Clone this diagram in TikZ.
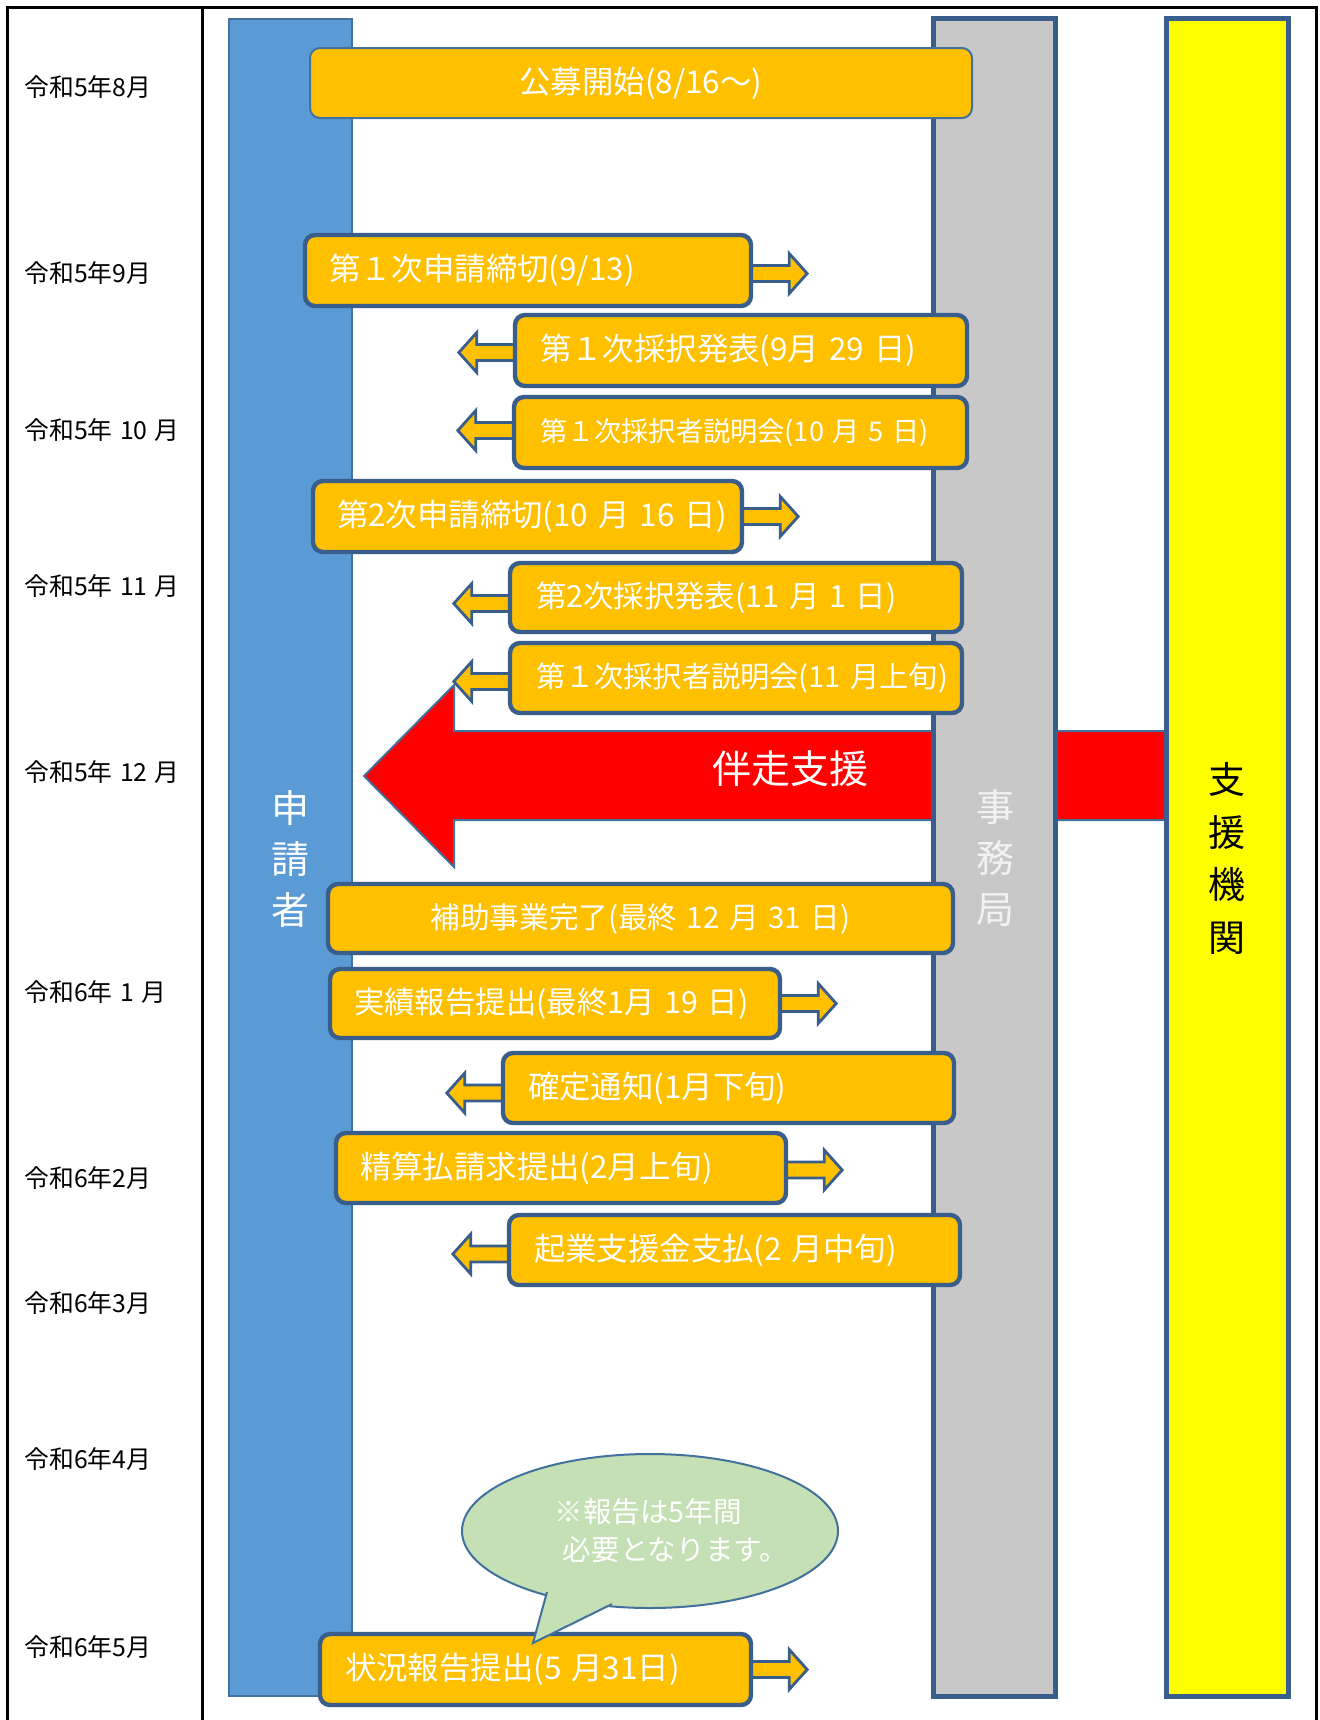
\documentclass[tikz,border=0pt]{standalone}
\usepackage{fontspec}
\setmainfont{Noto Sans CJK JP}
\usetikzlibrary{shapes.geometric}
\definecolor{boxfill}{HTML}{FFC000}
\definecolor{boxline}{HTML}{3A5E8C}
\definecolor{thinline}{HTML}{41719C}
\definecolor{applblue}{HTML}{5B9BD5}
\definecolor{officegray}{HTML}{C8C8C8}
\definecolor{bubblefill}{HTML}{C5E0B4}
\definecolor{offwhite}{HTML}{F2F2F2}
\definecolor{pureyellow}{HTML}{FFFF00}
\newcommand\gap{\kern0.32em}
\newcommand\mgap{\kern0.3em}
\newcommand\arrowR[2]{\draw[blockarrow] ([yshift=#2]#1.east) ++(-6,8) -- ++(42,0) -- ++(0,12) -- ++(18,-20) -- ++(-18,-20) -- ++(0,12) -- ++(-42,0) -- cycle;}
\newcommand\arrowL[2]{\draw[blockarrow] ([yshift=#2]#1.west) ++(6,8) -- ++(-42,0) -- ++(0,12) -- ++(-18,-20) -- ++(18,-20) -- ++(0,12) -- ++(42,0) -- cycle;}
\pgfdeclarelayer{back}
\pgfdeclarelayer{mid}
\pgfsetlayers{back,mid,main}
\begin{document}
\begin{tikzpicture}[x=0.5pt,y=-0.5pt,
  evbox/.style={draw=boxline, line width=2.2pt, fill=boxfill, rounded corners=5pt, text=white, inner ysep=0pt, font=\fontsize{15.7pt}{18pt}\selectfont},
  lbox/.style n args={3}{evbox, minimum height=#1, inner xsep=#2, text width=#3, align=left},
  cbox/.style n args={2}{evbox, minimum width=#1, minimum height=#2, align=center, inner xsep=0pt},
  blockarrow/.style={draw=boxline, line width=1.4pt, fill=boxfill, line join=miter},
  month/.style={anchor=west, font=\fontsize{12.4pt}{14pt}\selectfont, inner sep=0pt},
  vlabel/.style={align=center, font=\fontsize{19pt}{25.5pt}\selectfont, inner sep=0pt},
  frame/.style={line width=1.5pt, black},
]
\useasboundingbox (0,0) rectangle (1319,1720);

% columns and the big red arrow
\begin{pgfonlayer}{back}
\fill[white] (0,0) rectangle (1319,1720);
\draw[fill=applblue, draw=thinline, line width=1pt] (229,19) rectangle (352,1696);
\draw[fill=red, draw=thinline, line width=1pt, line join=miter]
  (1166,731) -- (454,731) -- (454,685) -- (364,776) -- (454,867) -- (454,820) -- (1166,820) -- cycle;
\draw[fill=officegray, draw=boxline, line width=2.5pt] (933.5,18.5) rectangle (1055,1696.5);
\draw[fill=pureyellow, draw=boxline, line width=2.5pt] (1166.5,18.5) rectangle (1288.5,1696.5);
\end{pgfonlayer}

% table frame
\draw[frame] (7,1720) -- (7,7) -- (1316,7) -- (1316,1720);
\draw[frame] (202,7) -- (202,1720);

% month labels
\node[month] (m1) at (24,87) {令和5年8月};
\node[month] (m2) at (24,273) {令和5年9月};
\node[month] (m3) at (24,430) {令和5年\mgap 10\mgap 月};
\node[month] (m4) at (24,586) {令和5年\mgap 11\mgap 月};
\node[month] (m5) at (24,772) {令和5年\mgap 12\mgap 月};
\node[month] (m6) at (24,992) {令和6年\mgap 1\mgap 月};
\node[month] (m7) at (24,1178) {令和6年2月};
\node[month] (m8) at (24,1303) {令和6年3月};
\node[month] (m9) at (24,1459) {令和6年4月};
\node[month] (m10) at (24,1647) {令和6年5月};

% vertical labels
\node[vlabel, text=white] (appl) at (290,859) {申\\請\\者};
\node[vlabel, text=offwhite] (office) at (995,858) {事\\務\\局};
\node[vlabel, text=black, font=\fontsize{18.5pt}{26.2pt}\selectfont] (support) at (1227,858.5) {支\\援\\機\\関};
\node[text=white, font=\fontsize{19.5pt}{22pt}\selectfont, inner sep=0pt] (accomp) at (790,769) {伴走支援};

% event boxes
\node[cbox={331pt}{35pt}, draw=thinline, line width=1pt] (b1) at (641,83) {公募開始(8/16～)};
\node[lbox={35.5pt}{12pt}{199pt}] (b2) at (528,270.5) {第１次申請締切(9/13)};
\node[lbox={35.5pt}{12.5pt}{201pt}] (b3) at (741,350.5) {第１次採択発表(9月\gap 29\gap 日)};
\node[lbox={35.5pt}{13pt}{200.5pt}, font=\fontsize{13.6pt}{16pt}\selectfont] (b4) at (740.5,432.5) {第１次採択者説明会(10\gap 月\gap 5\gap 日)};
\node[lbox={35.5pt}{12pt}{190.5pt}] (b5) at (527.5,516.5) {第2次申請締切(10\gap 月\gap 16\gap 日)};
\node[lbox={34.5pt}{13pt}{200pt}, font=\fontsize{15.2pt}{17pt}\selectfont] (b6) at (736,597.5) {第2次採択発表(11\gap 月\gap 1\gap 日)};
\node[lbox={35pt}{13pt}{200pt}, font=\fontsize{14.6pt}{17pt}\selectfont] (b7) at (736,678) {第１次採択者説明会(11\gap 月上旬)};
\node[cbox={312.5pt}{34.5pt}, font=\fontsize{14.8pt}{17pt}\selectfont] (b8) at (640.5,918.5) {補助事業完了(最終\gap 12\gap 月\gap 31\gap 日)};
\node[lbox={34.5pt}{12pt}{201pt}, font=\fontsize{15.2pt}{17pt}\selectfont] (b9) at (555,1003.5) {実績報告提出(最終1月\gap 19\gap 日)};
\node[lbox={35pt}{12.5pt}{200.5pt}] (b10) at (728.5,1088) {確定通知(1月下旬)};
\node[lbox={35pt}{12pt}{201pt}] (b11) at (561,1168) {精算払請求提出(2月上旬)};
\node[lbox={35pt}{12.5pt}{200.5pt}] (b12) at (734.5,1250) {起業支援金支払(2\gap 月中旬)};
\node[lbox={35.5pt}{12.5pt}{190.5pt}] (b13) at (535.5,1669.5) {状況報告提出(5\gap 月31日)};

% small block arrows (behind the boxes)
\begin{pgfonlayer}{mid}
\arrowR{b2}{-1.5pt}
\arrowL{b3}{-1pt}
\arrowL{b4}{1pt}
\arrowR{b5}{0pt}
\arrowL{b6}{-3pt}
\arrowL{b7}{-1.75pt}
\arrowR{b9}{0pt}
\arrowL{b10}{-2.5pt}
\arrowR{b11}{-1pt}
\arrowL{b12}{-2pt}
\arrowR{b13}{0pt}
\end{pgfonlayer}

% speech bubble
\node[ellipse, draw=thinline, line width=1pt, fill=bubblefill, minimum width=188pt, minimum height=77pt, inner sep=0pt] (bub) at (650,1531) {};
\node[anchor=west, inner sep=0pt, text=white, align=left, font=\fontsize{14.3pt}{19pt}\selectfont] (bubtext) at (554,1531) {※報告は5年間\\\kern0.3em 必要となります。};
\coordinate (tailtip) at (533,1643);
\fill[bubblefill] (547,1593) -- (tailtip) -- (612,1605) -- (605,1585) -- (555,1580) -- cycle;
\draw[thinline, line width=1pt, line join=miter] (547,1592) -- (tailtip) -- (612,1604);
\end{tikzpicture}
\end{document}
